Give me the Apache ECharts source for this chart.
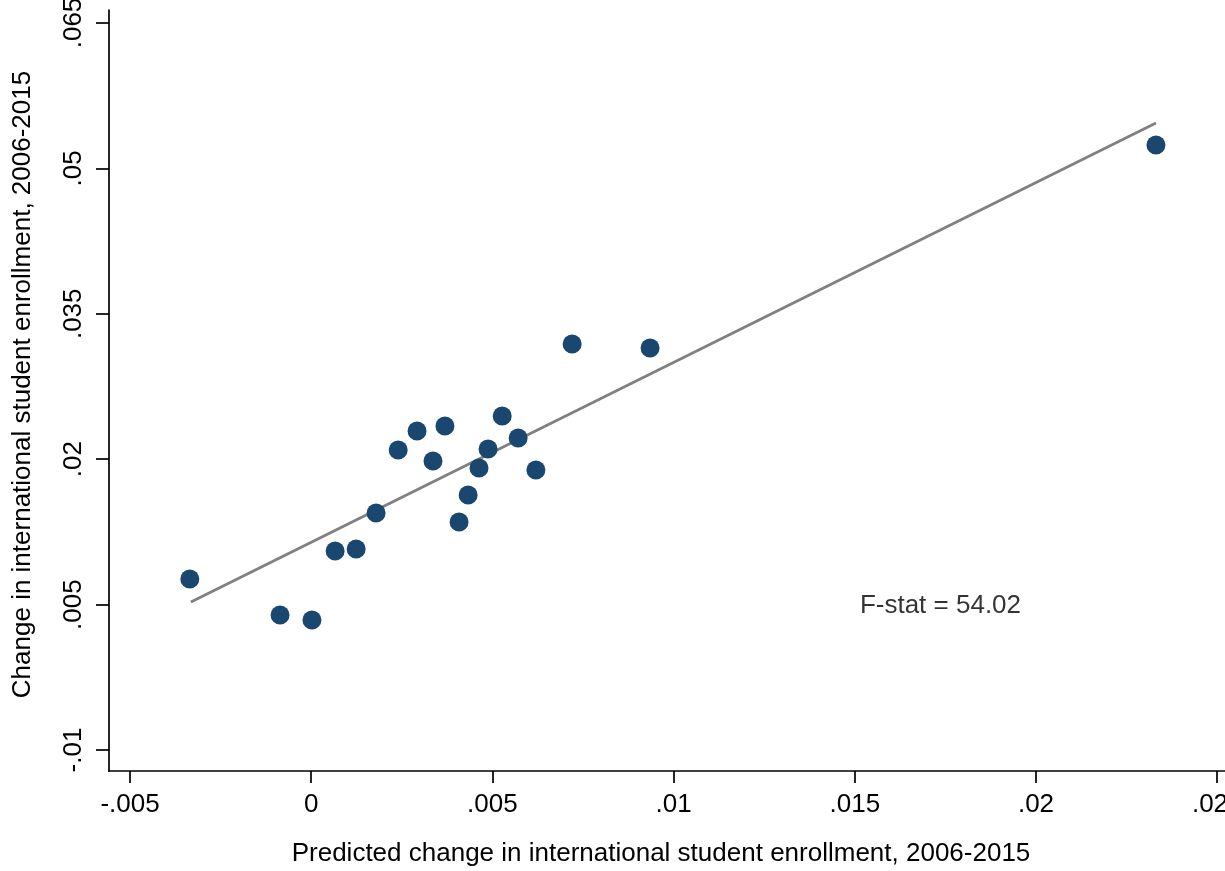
<!DOCTYPE html>
<html>
<head>
<meta charset="utf-8">
<script src="https://cdn.jsdelivr.net/npm/echarts@6/dist/echarts.min.js"></script>
<style>
html,body{margin:0;padding:0;background:#fff;}
#chart{width:1225px;height:871px;}
</style>
</head>
<body>
<div id="chart"></div>
<script>
// Predicted change (x) and actual change (y) in international student enrollment
const predictedChange = [-0.00335, -0.00086, 0.00002, 0.00066, 0.00124, 0.00179, 0.00240, 0.00292, 0.00336, 0.00369, 0.00408, 0.00433, 0.00463, 0.00488, 0.00527, 0.00571, 0.00620, 0.00720, 0.00935, 0.02331];
const actualChange    = [ 0.00764,  0.00393, 0.00341, 0.01053, 0.01074, 0.01445, 0.02095, 0.02291, 0.01982, 0.02343, 0.01352, 0.01631, 0.01909, 0.02105, 0.02446, 0.02219, 0.01889, 0.03189, 0.03147, 0.05242];
// Linear fit endpoints
const fitX = [-0.00332, 0.02331];
const fitY = [ 0.00527, 0.05469];
// Annotation
const annotationText = 'F-stat = 54.02';
const annotationPos = [0.01514, 0.00486];
// Tick values
const xTicks = [-0.005, 0, 0.005, 0.01, 0.015, 0.02, 0.025];
const yTicks = [-0.01, 0.005, 0.02, 0.035, 0.05, 0.065];
const xTitle = 'Predicted change in international student enrollment, 2006-2015';
const yTitle = 'Change in international student enrollment, 2006-2015';

function fmt(v) {
  if (v === 0) return '0';
  return String(+v.toFixed(4)).replace(/^(-?)0\./, '$1.');
}

const FONT = "'Liberation Sans', Arial, Helvetica, sans-serif";
const chart = echarts.init(document.getElementById('chart'), null, {renderer: 'canvas'});

const scatterData = predictedChange.map((x, i) => [x, actualChange[i]]);
const fitData = fitX.map((x, i) => [x, fitY[i]]);

chart.setOption({
  backgroundColor: '#ffffff',
  animation: false,
  grid: {left: 109, right: 0, top: 10, bottom: 100, containLabel: false, outerBoundsMode: 'none'},
  xAxis: {
    type: 'value',
    min: -0.00558,
    max: 0.025215,
    name: xTitle,
    nameLocation: 'middle',
    nameGap: 70,
    nameTextStyle: {fontFamily: FONT, fontSize: 26, color: '#000', padding: [0, 12, 0, 0]},
    axisLine: {show: true, onZero: false, lineStyle: {color: '#000', width: 1.7}},
    axisTick: {show: true, length: 12, customValues: xTicks, lineStyle: {color: '#000', width: 1.7}},
    axisLabel: {show: true, margin: 21, customValues: xTicks, fontFamily: FONT, fontSize: 26, color: '#000', formatter: fmt},
    splitLine: {show: false}
  },
  yAxis: {
    type: 'value',
    min: -0.012167,
    max: 0.06634,
    name: yTitle,
    nameLocation: 'middle',
    nameGap: 73,
    nameRotate: 90,
    nameTextStyle: {fontFamily: FONT, fontSize: 26, color: '#000', padding: [0, 0, 0, 12]},
    axisLine: {show: true, onZero: false, lineStyle: {color: '#000', width: 1.7}},
    axisTick: {show: true, length: 13, customValues: yTicks, lineStyle: {color: '#000', width: 1.7}},
    axisLabel: {show: true, margin: 22, rotate: 90, customValues: yTicks, fontFamily: FONT, fontSize: 26, color: '#000', formatter: fmt},
    splitLine: {show: false}
  },
  series: [
    {
      type: 'line',
      data: fitData,
      showSymbol: false,
      symbol: 'none',
      lineStyle: {color: '#808080', width: 2.8},
      z: 2,
      silent: true
    },
    {
      type: 'scatter',
      data: scatterData,
      symbol: 'circle',
      symbolSize: 19,
      itemStyle: {color: '#1a476f', opacity: 1},
      z: 3
    },
    {
      type: 'scatter',
      data: [annotationPos],
      symbolSize: 0,
      silent: true,
      label: {
        show: true,
        position: 'right',
        distance: 0,
        formatter: annotationText,
        fontFamily: FONT,
        fontSize: 26,
        color: '#000'
      }
    }
  ]
});
</script>
</body>
</html>
